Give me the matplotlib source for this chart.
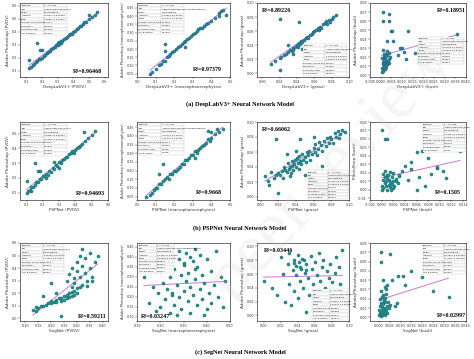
import numpy as np
import matplotlib.pyplot as plt
from matplotlib.ticker import FormatStrFormatter

# ---- data ----
# (a) DeepLabV3+
a_pvdv_x = [0.12,0.13,0.14,0.15,0.16,0.17,0.18,0.19,0.20,0.21,0.22,0.23,0.24,0.25,0.26,0.27,0.28,0.29,0.30,0.30,0.31,0.31,0.32,0.32,0.33,0.34,0.35,0.36,0.37,0.38,0.39,0.40,0.41,0.42,0.43,0.44,0.45,0.46,0.47,0.48,0.50,0.52,0.54,0.55,0.17,0.19,0.20,0.12,0.50]
a_pvdv_y = [0.12,0.13,0.145,0.15,0.165,0.17,0.185,0.19,0.20,0.215,0.22,0.235,0.24,0.25,0.265,0.27,0.28,0.295,0.31,0.30,0.32,0.305,0.33,0.31,0.33,0.345,0.35,0.355,0.37,0.38,0.385,0.40,0.405,0.42,0.425,0.44,0.445,0.46,0.47,0.475,0.50,0.51,0.53,0.55,0.31,0.26,0.26,0.18,0.53]
a_macro_x = [0.07,0.08,0.10,0.12,0.13,0.14,0.15,0.16,0.17,0.18,0.19,0.20,0.21,0.22,0.23,0.24,0.25,0.26,0.27,0.28,0.29,0.30,0.31,0.32,0.33,0.34,0.35,0.36,0.37,0.38,0.40,0.42,0.44,0.45,0.46,0.48,0.15,0.15,0.26,0.44]
a_macro_y = [0.05,0.06,0.08,0.10,0.11,0.125,0.13,0.15,0.16,0.17,0.18,0.19,0.20,0.21,0.22,0.23,0.24,0.25,0.26,0.27,0.28,0.29,0.30,0.31,0.32,0.33,0.33,0.34,0.35,0.36,0.37,0.39,0.42,0.43,0.44,0.41,0.23,0.19,0.21,0.40]
a_grass_x = [0.01,0.015,0.02,0.022,0.025,0.027,0.03,0.032,0.034,0.035,0.036,0.038,0.04,0.041,0.042,0.044,0.045,0.046,0.048,0.05,0.052,0.053,0.055,0.057,0.058,0.06,0.062,0.064,0.065,0.067,0.068,0.07,0.072,0.074,0.075,0.077,0.078,0.08,0.082,0.085,0.02,0.042,0.02,0.03,0.035,0.046]
a_grass_y = [0.013,0.018,0.022,0.024,0.026,0.028,0.03,0.033,0.032,0.036,0.034,0.038,0.04,0.037,0.043,0.042,0.046,0.044,0.047,0.05,0.052,0.051,0.055,0.056,0.059,0.06,0.061,0.064,0.062,0.066,0.065,0.07,0.071,0.074,0.07,0.076,0.073,0.078,0.08,0.083,0.077,0.073,0.005,0.04,0.028,0.035]
a_bush_x = [0.0005,0.0008,0.001,0.001,0.0012,0.0015,0.0015,0.0018,0.002,0.002,0.0022,0.0025,0.0025,0.003,0.003,0.0032,0.0035,0.004,0.004,0.0045,0.001,0.0013,0.0017,0.0021,0.0027,0.0033,0.0008,0.0016,0.0024,0.0038,
            0.001,0.001,0.004,0.004,0.005,0.0055,0.003,0.006,0.009,0.010,0.013,0.016,0.018,0.020,0.022,0.025,0.036,0.008,0.011,0.012]
a_bush_y = [0.004,0.008,0.012,0.006,0.015,0.01,0.02,0.007,0.013,0.018,0.024,0.009,0.016,0.012,0.022,0.027,0.015,0.018,0.025,0.02,0.028,0.005,0.017,0.009,0.011,0.014,0.019,0.023,0.021,0.013,
            0.07,0.06,0.068,0.06,0.049,0.049,0.038,0.038,0.03,0.03,0.049,0.025,0.028,0.036,0.03,0.031,0.046,0.022,0.026,0.018]

# (b) PSPNet
b_pvdv_x = [0.10,0.11,0.12,0.13,0.13,0.14,0.15,0.16,0.17,0.18,0.19,0.20,0.21,0.22,0.23,0.24,0.25,0.26,0.27,0.28,0.29,0.30,0.31,0.32,0.33,0.34,0.35,0.36,0.37,0.38,0.39,0.40,0.41,0.42,0.43,0.44,0.46,0.48,0.50,0.52,0.15,0.17,0.18,0.10,0.27,0.30,0.45,0.22]
b_pvdv_y = [0.10,0.11,0.12,0.11,0.14,0.14,0.15,0.17,0.17,0.19,0.19,0.21,0.21,0.23,0.22,0.25,0.24,0.27,0.26,0.29,0.28,0.31,0.30,0.32,0.33,0.34,0.34,0.36,0.37,0.38,0.37,0.39,0.40,0.41,0.42,0.43,0.45,0.47,0.49,0.52,0.30,0.25,0.25,0.18,0.31,0.27,0.51,0.20]
b_macro_x = [0.05,0.07,0.08,0.09,0.10,0.11,0.12,0.13,0.14,0.15,0.16,0.17,0.18,0.19,0.20,0.21,0.22,0.23,0.24,0.25,0.26,0.27,0.28,0.29,0.30,0.31,0.32,0.33,0.34,0.35,0.36,0.37,0.38,0.39,0.40,0.42,0.44,0.46,0.14,0.38,0.40,0.43,0.12,0.31]
b_macro_y = [0.05,0.06,0.07,0.09,0.10,0.10,0.12,0.12,0.14,0.15,0.16,0.15,0.18,0.18,0.20,0.20,0.21,0.22,0.24,0.24,0.26,0.26,0.27,0.29,0.29,0.31,0.30,0.32,0.33,0.34,0.35,0.36,0.38,0.37,0.39,0.41,0.42,0.44,0.24,0.43,0.42,0.44,0.18,0.27]
b_grass_x = [0.005,0.008,0.010,0.012,0.015,0.018,0.02,0.022,0.024,0.025,0.027,0.028,0.03,0.031,0.032,0.033,0.034,0.035,0.036,0.037,0.038,0.039,0.04,0.041,0.042,0.043,0.044,0.045,0.046,0.047,0.048,0.05,0.051,0.052,0.054,0.055,0.056,0.058,0.06,0.061,0.062,0.064,0.065,0.066,0.068,0.07,0.072,0.074,0.075,0.077,0.078,0.08,0.082,0.084,0.085,0.087,0.089,0.09,0.092,0.095,0.018,0.02,0.045,0.07,0.03,0.04,0.06,0.033,0.05]
b_grass_y = [0.028,0.022,0.016,0.033,0.025,0.03,0.032,0.03,0.035,0.026,0.04,0.036,0.034,0.045,0.038,0.04,0.032,0.042,0.048,0.036,0.044,0.05,0.04,0.052,0.046,0.038,0.055,0.048,0.044,0.058,0.05,0.053,0.047,0.06,0.056,0.062,0.05,0.058,0.066,0.06,0.071,0.056,0.064,0.074,0.07,0.062,0.075,0.068,0.079,0.072,0.08,0.078,0.072,0.085,0.08,0.088,0.079,0.084,0.09,0.087,0.078,0.005,0.078,0.042,0.058,0.062,0.08,0.028,0.03]
b_bush_x = [0.0,0.0,0.0002,0.0003,0.0005,0.0005,0.0007,0.0008,0.001,0.001,0.0012,0.0013,0.0015,0.0015,0.0017,0.0018,0.002,0.002,0.0022,0.0025,0.0028,0.003,0.0003,0.0009,0.0014,0.0019,0.0024,0.0006,0.0011,0.0016,
            0.0,0.0005,0.001,0.0075,0.006,0.007,0.008,0.0135,0.0095,0.0095,0.005,0.005,0.004,0.0035,0.003,0.0065,0.0085,0.0105,0.011,0.0045,0.006,0.0075]
b_bush_y = [0.0,0.005,0.012,0.002,0.008,0.015,0.004,0.01,0.0,0.018,0.006,0.012,0.003,0.009,0.015,0.007,0.011,0.02,0.005,0.013,0.008,0.016,0.019,0.014,0.021,0.002,0.01,0.022,0.017,0.0,
            0.07,0.06,0.06,0.068,0.045,0.046,0.038,0.046,0.026,0.027,0.033,0.025,0.028,0.022,0.018,0.015,0.019,0.022,0.014,0.012,0.0,0.004]

# (c) SegNet
c_pvdv_x = [0.13,0.14,0.14,0.15,0.16,0.17,0.18,0.19,0.2,0.21,0.22,0.23,0.24,0.25,0.26,0.27,0.28,0.29,0.3,0.31,0.32,
            0.2,0.22,0.24,0.26,0.28,0.3,0.25,0.27,0.29,
            0.26,0.27,0.28,0.29,0.3,0.3,0.31,0.32,0.32,0.33,0.33,0.34,0.35,0.35,0.36,0.37,0.38,0.28,0.29,0.31,0.34,0.36,
            0.2,0.24,0.17,0.22]
c_pvdv_y = [0.07,0.06,0.09,0.08,0.1,0.1,0.11,0.12,0.14,0.13,0.15,0.16,0.16,0.18,0.19,0.2,0.21,0.22,0.24,0.25,0.27,
            0.12,0.13,0.14,0.16,0.18,0.2,0.15,0.17,0.19,
            0.3,0.35,0.4,0.32,0.45,0.38,0.5,0.42,0.55,0.36,0.48,0.3,0.52,0.4,0.33,0.45,0.5,0.25,0.28,0.33,0.26,0.3,
            0.28,0.02,0.18,0.2]
c_macro_x = [0.13,0.15,0.16,0.17,0.18,0.19,0.2,0.2,0.21,0.22,0.22,0.23,0.24,0.24,0.25,0.25,0.26,0.26,0.27,0.27,0.28,0.28,0.29,0.29,0.3,0.3,0.31,0.31,0.32,0.32,0.33,0.33,0.34,0.34,0.35,0.35,0.36,0.36,0.37,0.37,0.38,0.38,0.39,0.4,0.4,0.41,0.42,0.42,0.43,0.44,0.45,0.46,0.47,0.48,0.3,0.33,0.28,0.35,0.25,0.39]
c_macro_y = [0.3,0.17,0.38,0.25,0.13,0.22,0.33,0.15,0.27,0.19,0.36,0.24,0.12,0.3,0.21,0.4,0.16,0.34,0.26,0.11,0.43,0.2,0.31,0.14,0.37,0.23,0.28,0.42,0.18,0.32,0.25,0.12,0.38,0.21,0.29,0.44,0.16,0.35,0.24,0.41,0.19,0.31,0.27,0.14,0.39,0.22,0.33,0.17,0.26,0.43,0.2,0.3,0.15,0.28,0.36,0.4,0.39,0.34,0.22,0.11]
c_grass_x = [0.0,0.01,0.015,0.02,0.022,0.025,0.028,0.03,0.03,0.032,0.034,0.035,0.036,0.038,0.04,0.04,0.042,0.043,0.045,0.046,0.048,0.05,0.05,0.052,0.053,0.055,0.056,0.058,0.06,0.06,0.062,0.063,0.065,0.066,0.068,0.07,0.07,0.072,0.074,0.075,0.077,0.078,0.08,0.082,0.084,0.085,0.087,0.088,0.09,0.092,0.035,0.038,0.041,0.044,0.047,0.05]
c_grass_y = [0.05,0.04,0.03,0.085,0.06,0.02,0.075,0.045,0.09,0.015,0.066,0.08,0.035,0.058,0.088,0.025,0.07,0.05,0.082,0.04,0.062,0.005,0.074,0.055,0.03,0.086,0.068,0.045,0.02,0.078,0.058,0.035,0.09,0.05,0.07,0.012,0.08,0.04,0.065,0.028,0.055,0.075,0.048,0.02,0.062,0.085,0.035,0.07,0.045,0.095,0.076,0.072,0.078,0.068,0.08,0.066]
c_bush_x = [0.0,0.0,0.0005,0.0008,0.001,0.001,0.0012,0.0015,0.0015,0.0018,0.002,0.002,0.0022,0.0025,0.0028,0.003,0.003,0.0033,0.0036,0.004,0.0045,0.005,0.0006,0.0014,0.0024,0.0032,0.0042,0.001,0.0019,0.0027,
            0.001,0.001,0.005,0.006,0.009,0.011,0.012,0.015,0.02,0.025,0.032,0.0035,0.003,0.004,0.002,0.0075,0.0085]
c_bush_y = [0.002,0.008,0.005,0.012,0.001,0.015,0.007,0.003,0.011,0.009,0.004,0.014,0.018,0.006,0.01,0.002,0.016,0.008,0.012,0.005,0.01,0.013,0.02,0.022,0.019,0.025,0.017,0.028,0.024,0.021,
            0.07,0.06,0.068,0.04,0.045,0.045,0.035,0.05,0.043,0.028,0.022,0.03,0.033,0.035,0.04,0.012,0.015]

r2_labels = ["0.96468", "0.97379", "0.89226", "0.18951",
             "0.94693", "0.9668", "0.66062", "0.1505",
             "0.59211", "0.03247", "0.03446", "0.02997"]
nets = ["DeepLabV3+", "PSPNet", "SegNet"]
classes = ["PVDV", "macrophanerophytes", "grass", "bush"]
captions = ["(a) DeepLabV3+ Neural Network Model",
            "(b) PSPNet Neural Network Model",
            "(c) SegNet Neural Network Model"]

W, H = 474, 359
fig = plt.figure(figsize=(W/100, H/100), dpi=100)
fig.patch.set_facecolor('white')

def rect(l, t, r, b):
    return [l/W, 1-b/H, (r-l)/W, (b-t)/H]

col_x = [(20, 108), (137, 230), (257, 349), (370, 466)]
row_y = [(3, 77), (122, 200), (243, 321)]
cap_y = [104, 228, 352]

data = [[(a_pvdv_x, a_pvdv_y), (a_macro_x, a_macro_y), (a_grass_x, a_grass_y), (a_bush_x, a_bush_y)],
        [(b_pvdv_x, b_pvdv_y), (b_macro_x, b_macro_y), (b_grass_x, b_grass_y), (b_bush_x, b_bush_y)],
        [(c_pvdv_x, c_pvdv_y), (c_macro_x, c_macro_y), (c_grass_x, c_grass_y), (c_bush_x, c_bush_y)]]

# per panel: xlim, xticks, fmt, ylim, yticks, fmt
lims = [
    [((0.06, 0.62), np.arange(0.1, 0.61, 0.1), '%.1f', (0.05, 0.62), np.arange(0.1, 0.61, 0.1), '%.1f'),
     ((0.0, 0.5), np.arange(0.0, 0.51, 0.1), '%.1f', (0.03, 0.48), np.arange(0.05, 0.46, 0.05), '%.2f'),
     ((-0.006, 0.1), np.arange(0.0, 0.101, 0.02), '%.2f', (-0.005, 0.1), np.arange(0.0, 0.101, 0.02), '%.2f'),
     ((-0.005, 0.04), np.arange(-0.005, 0.0401, 0.005), '%.3f', (-0.002, 0.08), np.arange(0.0, 0.081, 0.01), '%.2f')],
    [((0.06, 0.6), np.arange(0.1, 0.61, 0.1), '%.1f', (0.05, 0.58), np.arange(0.1, 0.51, 0.1), '%.1f'),
     ((0.0, 0.5), np.arange(0.0, 0.51, 0.1), '%.1f', (0.03, 0.48), np.arange(0.05, 0.46, 0.05), '%.2f'),
     ((-0.004, 0.1), np.arange(0.0, 0.101, 0.02), '%.2f', (-0.004, 0.1), np.arange(0.0, 0.101, 0.02), '%.2f'),
     ((-0.002, 0.0145), np.arange(-0.002, 0.0141, 0.002), '%.3f', (-0.012, 0.08), np.arange(-0.01, 0.081, 0.01), '%.2f')],
    [((0.08, 0.42), np.arange(0.1, 0.41, 0.05), '%.2f', (-0.02, 0.6), np.arange(0.0, 0.61, 0.1), '%.1f'),
     ((0.1, 0.5), np.arange(0.1, 0.51, 0.1), '%.2f', (0.08, 0.47), np.arange(0.1, 0.46, 0.05), '%.2f'),
     ((-0.008, 0.1), np.arange(0.0, 0.101, 0.02), '%.2f', (-0.008, 0.105), np.arange(0.0, 0.101, 0.02), '%.2f'),
     ((-0.004, 0.04), np.arange(0.0, 0.0401, 0.005), '%.3f', (-0.004, 0.08), np.arange(0.0, 0.081, 0.01), '%.2f')],
]
r2_pos = [[(0.6, 0.06), (0.6, 0.08), (0.05, 0.88), (0.7, 0.88)],
          [(0.63, 0.06), (0.63, 0.08), (0.05, 0.88), (0.68, 0.08)],
          [(0.66, 0.04), (0.04, 0.04), (0.08, 0.88), (0.7, 0.05)]]
tbl_box = [[(0.01, 0.57, 0.52, 0.42), (0.01, 0.58, 0.5, 0.41), (0.5, 0.02, 0.48, 0.43), (0.5, 0.18, 0.48, 0.36)],
           [(0.01, 0.57, 0.52, 0.42), (0.01, 0.58, 0.5, 0.41), (0.55, 0.01, 0.44, 0.37), (0.55, 0.62, 0.44, 0.37)],
           [(0.02, 0.6, 0.48, 0.39), (0.02, 0.62, 0.38, 0.37), (0.6, 0.01, 0.39, 0.4), (0.55, 0.6, 0.44, 0.39)]]

pt_col = ['#2d86a8', '#1f978f', '#1f978f']
line_col = '#c878d8'

for i in range(3):
    for j in range(4):
        x = np.array(data[i][j][0])
        y = np.array(data[i][j][1])
        ax = fig.add_axes(rect(col_x[j][0], row_y[i][0], col_x[j][1], row_y[i][1]))
        ax.scatter(x, y, s=5, c=pt_col[i], edgecolors='#135a66', linewidths=0.3, zorder=3)
        k, b0 = np.polyfit(x, y, 1)
        xx = np.array([x.min(), x.max()])
        ax.plot(xx, k*xx + b0, color=line_col, lw=0.7, zorder=2)
        xl, xt, xf, yl, yt, yf = lims[i][j]
        ax.set_xlim(xl)
        ax.set_ylim(yl)
        ax.set_xticks(xt)
        ax.set_yticks(yt)
        ax.xaxis.set_major_formatter(FormatStrFormatter(xf))
        ax.yaxis.set_major_formatter(FormatStrFormatter(yf))
        ax.tick_params(labelsize=2.4, length=1.2, width=0.3, pad=1, colors='#333333')
        for sp in ax.spines.values():
            sp.set_linewidth(0.4)
        ax.set_xlabel(nets[i] + " (" + classes[j] + ")", fontsize=3, labelpad=1, color='#333333')
        ylab = "Adobe Photoshop (" + classes[j] + ")"
        if i == 1 and j == 3:
            ylab = "PhotoShop (bush)"
        ax.set_ylabel(ylab, fontsize=2.6 if j == 1 else 3, labelpad=1, color='#333333')
        ax.text(r2_pos[i][j][0], r2_pos[i][j][1], "R²=" + r2_labels[i*4+j], transform=ax.transAxes,
                fontsize=4.3, fontweight='bold', family='Liberation Serif', zorder=5)
        rows = [["Equation", "y = a + b*x"],
                ["Plot", "Adobe Photoshop (" + classes[j] + ")"],
                ["Weight", "No Weighting"],
                ["Intercept", "%.5f ± %.5f" % (b0, abs(b0) / 10 + 0.001)],
                ["Slope", "%.5f ± %.5f" % (k, abs(k) / 50 + 0.001)],
                ["Residual Sum of Squares", "%.5f" % np.sum((y - k*x - b0) ** 2)],
                ["Pearson's r", "%.5f" % np.sqrt(float(r2_labels[i*4+j]))],
                ["R-Square (COD)", r2_labels[i*4+j]],
                ["Adj. R-Square", r2_labels[i*4+j]]]
        tb = ax.table(cellText=rows, bbox=list(tbl_box[i][j]), cellLoc='left', zorder=4)
        tb.auto_set_font_size(False)
        tb.set_fontsize(1.5)
        for cell in tb.get_celld().values():
            cell.set_linewidth(0.15)
            cell.set_edgecolor('#999999')
            cell.set_facecolor('white')
            cell.PAD = 0.02

for i in range(3):
    fig.text(240/W, 1 - cap_y[i]/H, captions[i], ha='center', va='center',
             fontsize=4.5, fontweight='bold', family='Liberation Serif')

# faint watermark across the right half
fig.text(0.7, 0.52, "peer review", rotation=47, fontsize=50, color='#cccccc', alpha=0.2,
         ha='center', va='center', family='Liberation Serif', zorder=10)

fig.savefig("out.png", dpi=100)
